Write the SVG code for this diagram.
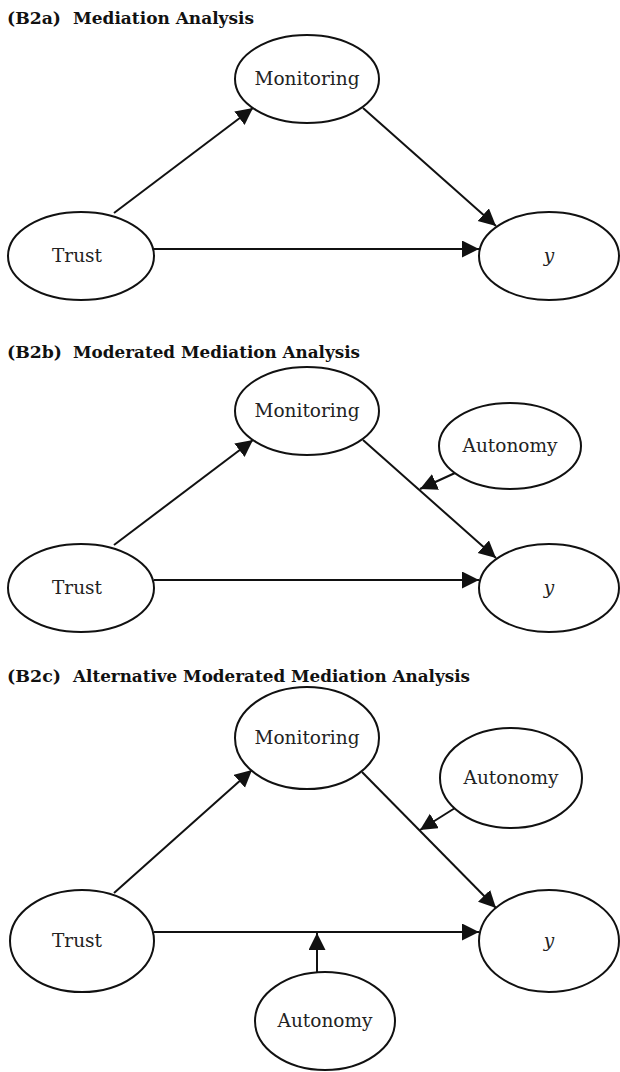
<svg xmlns="http://www.w3.org/2000/svg" width="620" height="1072" viewBox="0 0 620 1072">
<style>
.node ellipse{fill:#fff;stroke:#111;stroke-width:2}
.lbl{font-family:"DejaVu Serif","Liberation Serif",serif;font-size:18.5px;fill:#222;text-anchor:middle}
.it{font-style:italic}
.ttl{font-family:"DejaVu Serif","Liberation Serif",serif;font-size:17.5px;font-weight:bold;fill:#111}
.edges line{stroke:#111;stroke-width:2;marker-end:url(#ah)}
</style>
<defs>
<marker id="ah" markerUnits="userSpaceOnUse" markerWidth="18" markerHeight="18" refX="17" refY="8.5" orient="auto">
<path d="M0,0 L17,8.5 L0,17 z" fill="#111"/>
</marker>
</defs>
<rect width="620" height="1072" fill="#fff"/>

<g id="titles">
<text class="ttl" x="7" y="24" textLength="54" lengthAdjust="spacingAndGlyphs">(B2a)</text>
<text class="ttl" x="73" y="24" textLength="181" lengthAdjust="spacingAndGlyphs">Mediation Analysis</text>
<text class="ttl" x="7" y="358" textLength="55" lengthAdjust="spacingAndGlyphs">(B2b)</text>
<text class="ttl" x="73" y="358" textLength="287" lengthAdjust="spacingAndGlyphs">Moderated Mediation Analysis</text>
<text class="ttl" x="7" y="682" textLength="54" lengthAdjust="spacingAndGlyphs">(B2c)</text>
<text class="ttl" x="73" y="682" textLength="397" lengthAdjust="spacingAndGlyphs">Alternative Moderated Mediation Analysis</text>
</g>

<g class="edges" id="connectors">
<line x1="154" y1="249" x2="479" y2="249"/>
<line x1="114" y1="213" x2="253" y2="108"/>
<line x1="363" y1="108" x2="496" y2="226"/>

<line x1="154" y1="580" x2="479" y2="580"/>
<line x1="114" y1="545" x2="253" y2="440"/>
<line x1="363" y1="440" x2="496" y2="558"/>
<line x1="455" y1="473" x2="420" y2="489"/>

<line x1="154" y1="932" x2="479" y2="932"/>
<line x1="114" y1="893" x2="252" y2="770"/>
<line x1="362" y1="772" x2="496" y2="908"/>
<line x1="455" y1="808" x2="420" y2="830"/>
<line x1="317" y1="972" x2="317" y2="933"/>
</g>

<g id="a-monitoring" class="node"><ellipse cx="307" cy="79" rx="72" ry="44"/><text class="lbl" x="307" y="85">Monitoring</text></g>
<g id="a-trust" class="node"><ellipse cx="81" cy="256" rx="73" ry="44"/><text class="lbl" x="77" y="262">Trust</text></g>
<g id="a-y" class="node"><ellipse cx="549" cy="256" rx="70" ry="44"/><text class="lbl it" x="549" y="262">y</text></g>

<g id="b-monitoring" class="node"><ellipse cx="307" cy="411" rx="72" ry="44"/><text class="lbl" x="307" y="417">Monitoring</text></g>
<g id="b-autonomy" class="node"><ellipse cx="510" cy="446" rx="71" ry="43"/><text class="lbl" x="510" y="452">Autonomy</text></g>
<g id="b-trust" class="node"><ellipse cx="81" cy="588" rx="73" ry="44"/><text class="lbl" x="77" y="594">Trust</text></g>
<g id="b-y" class="node"><ellipse cx="549" cy="588" rx="70" ry="44"/><text class="lbl it" x="549" y="594">y</text></g>

<g id="c-monitoring" class="node"><ellipse cx="307" cy="738" rx="72" ry="51"/><text class="lbl" x="307" y="744">Monitoring</text></g>
<g id="c-autonomy-top" class="node"><ellipse cx="511" cy="778" rx="71" ry="50"/><text class="lbl" x="511" y="784">Autonomy</text></g>
<g id="c-trust" class="node"><ellipse cx="82" cy="941" rx="72" ry="51"/><text class="lbl" x="77" y="947">Trust</text></g>
<g id="c-y" class="node"><ellipse cx="549" cy="941" rx="70" ry="51"/><text class="lbl it" x="549" y="947">y</text></g>
<g id="c-autonomy-bottom" class="node"><ellipse cx="325" cy="1021" rx="70" ry="49"/><text class="lbl" x="325" y="1027">Autonomy</text></g>
</svg>
